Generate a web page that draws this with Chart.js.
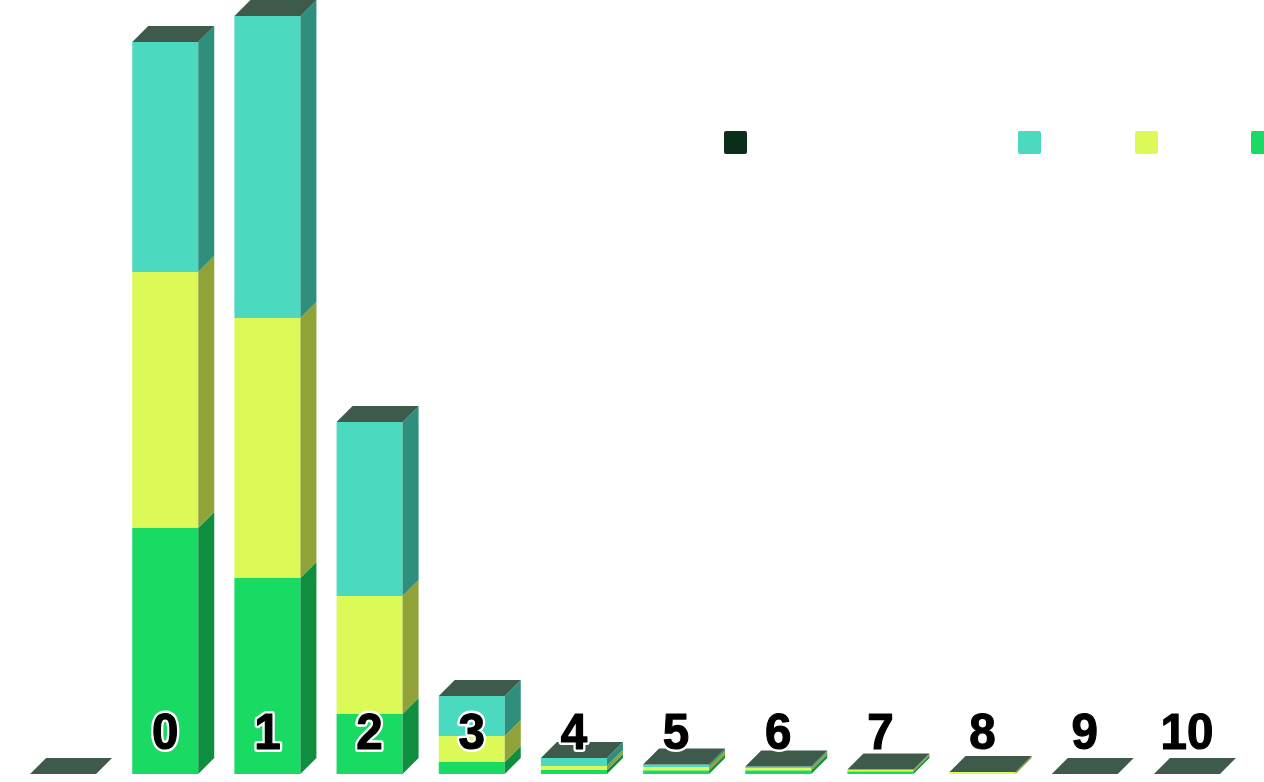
<!DOCTYPE html>
<html>
<head>
<meta charset="utf-8">
<script src="https://cdn.jsdelivr.net/npm/chart.js@4.4.1/dist/chart.umd.min.js"></script>
<style>
  html, body { margin: 0; padding: 0; background: #ffffff; overflow: hidden; }
  #wrap { width: 1264px; height: 782px; position: relative; }
  canvas { display: block; }
</style>
</head>
<body>
<div id="wrap"><canvas id="c" width="1264" height="782"></canvas></div>
<script>
// ---- data ----
const categories = ['', '0', '1', '2', '3', '4', '5', '6', '7', '8', '9', '10'];
const seriesNames = ['Series A', 'Series B', 'Series C', 'Total'];
const seriesA = [0, 123, 98, 30, 6, 2, 1.8, 1.8, 1.2, 0, 0, 0];      // green (bottom)
const seriesB = [0, 128, 130, 59, 13, 2, 1.7, 1.2, 1, 1, 0, 0];      // yellow
const seriesC = [0, 115, 151, 87, 20, 4, 1.3, 0.8, 0, 0, 0, 0];      // teal
const seriesTotal = [0, 0, 0, 0, 0, 0, 0, 0, 0, 0, 0, 0];            // dark cap series
const yMax = 380;

// ---- styles ----
const frontColors = ['#19da63', '#dcfa57', '#4bd9bf', '#0b2e1a'];
const sideColors = ['#0f8e40', '#8fa338', '#2f8f7d'];
const topColor = '#3d5a4a';
const DEPTH = 16;

const cube3d = {
  id: 'cube3d',
  afterDatasetsDraw(chart) {
    const ctx = chart.ctx;
    const n = chart.data.labels.length;
    ctx.save();
    for (let i = 0; i < n; i++) {
      let topY = Infinity, left = 0, right = 0;
      for (let d = 0; d < 3; d++) {
        const el = chart.getDatasetMeta(d).data[i];
        const w = el.width;
        left = el.x - w / 2; right = el.x + w / 2;
        const t = Math.min(el.y, el.base), b = Math.max(el.y, el.base);
        topY = Math.min(topY, t);
        if (b - t > 0.01) {
          ctx.fillStyle = sideColors[d];
          ctx.beginPath();
          ctx.moveTo(right, t);
          ctx.lineTo(right + DEPTH, t - DEPTH);
          ctx.lineTo(right + DEPTH, b - DEPTH);
          ctx.lineTo(right, b);
          ctx.closePath();
          ctx.fill();
        }
      }
      ctx.fillStyle = topColor;
      ctx.beginPath();
      ctx.moveTo(left, topY);
      ctx.lineTo(left + DEPTH, topY - DEPTH);
      ctx.lineTo(right + DEPTH, topY - DEPTH);
      ctx.lineTo(right, topY);
      ctx.closePath();
      ctx.fill();
    }
    ctx.restore();
  },
  afterDraw(chart) {
    const ctx = chart.ctx;
    const xs = chart.scales.x;
    // category labels on the bars
    chart.data.labels.forEach((lab, i) => {
      if (!lab) return;
      const x = xs.getPixelForValue(i);
      const y = 749;
      ctx.save();
      ctx.translate(x, y);
      ctx.scale(0.95, 1);
      ctx.font = 'bold 50px "Liberation Sans", Arial, sans-serif';
      ctx.textAlign = 'center';
      ctx.textBaseline = 'alphabetic';
      ctx.lineJoin = 'round';
      ctx.lineWidth = 6;
      ctx.strokeStyle = '#ffffff';
      ctx.strokeText(lab, 0, 0);
      ctx.lineWidth = 1.2;
      ctx.strokeStyle = '#000000';
      ctx.strokeText(lab, 0, 0);
      ctx.fillStyle = '#000000';
      ctx.fillText(lab, 0, 0);
      ctx.restore();
    });
    // legend (reverse order: cap, teal, yellow, green)
    ctx.save();
    const legendX = [724, 1018, 1135, 1251];
    const order = [3, 2, 1, 0];
    ctx.font = '16px "Liberation Sans", Arial, sans-serif';
    ctx.textAlign = 'left';
    ctx.textBaseline = 'middle';
    order.forEach((d, k) => {
      const ds = chart.data.datasets[d];
      const x = legendX[k], y = 131, s = 23;
      ctx.fillStyle = ds.backgroundColor;
      ctx.beginPath();
      ctx.roundRect(x, y, s, s, 2);
      ctx.fill();
      ctx.fillStyle = '#ffffff';
      ctx.fillText(ds.label, x + s + 8, y + s / 2);
    });
    ctx.restore();
  }
};

const dataSets = [seriesA, seriesB, seriesC, seriesTotal].map((vals, d) => ({
  label: seriesNames[d],
  data: vals,
  backgroundColor: frontColors[d],
  borderWidth: 0,
  stack: 's',
  barPercentage: 66 / 102.17,
  categoryPercentage: 1.0
}));

new Chart(document.getElementById('c'), {
  type: 'bar',
  data: { labels: categories, datasets: dataSets },
  options: {
    responsive: false,
    devicePixelRatio: 1,
    animation: false,
    layout: { padding: { left: 12, right: 26, top: 14, bottom: 8 } },
    plugins: { legend: { display: false }, tooltip: { enabled: false } },
    scales: {
      x: { stacked: true, display: false, offset: true },
      y: { stacked: true, display: false, min: 0, max: yMax }
    }
  },
  plugins: [cube3d]
});
</script>
</body>
</html>
